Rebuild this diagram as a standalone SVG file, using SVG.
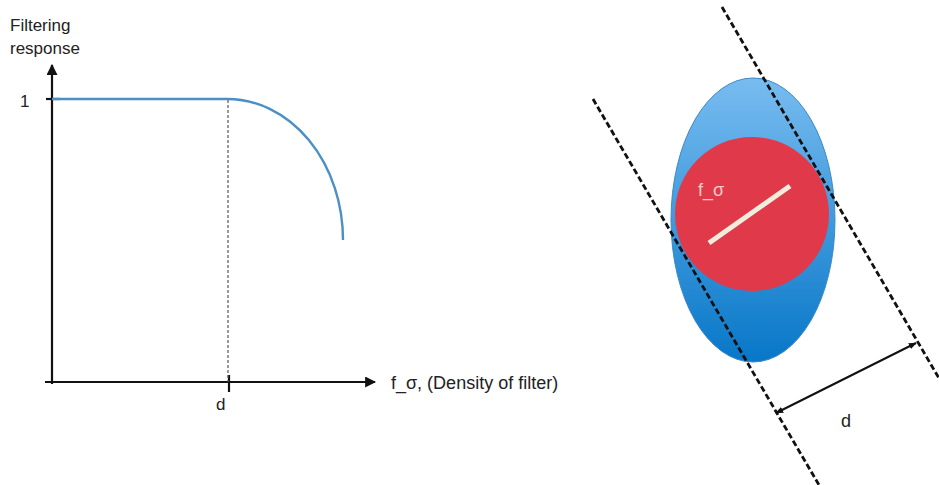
<svg xmlns="http://www.w3.org/2000/svg" width="939" height="485" viewBox="0 0 939 485">
<style>
text{font-family:"Liberation Sans",Arial,sans-serif;fill:#222}
.axis{stroke:#111;stroke-width:2.2;fill:none}
.dash{stroke:#111;stroke-width:2.8;stroke-dasharray:6 3;fill:none}
</style>
<defs>
<marker id="ah" viewBox="0 0 10 10" refX="9" refY="5" markerWidth="5" markerHeight="5" orient="auto" markerUnits="strokeWidth">
<path d="M0,0 L10,5 L0,10 z" fill="#111"/>
</marker>
<marker id="ahs" viewBox="0 0 10 10" refX="9" refY="5" markerWidth="4" markerHeight="4" orient="auto-start-reverse" markerUnits="strokeWidth">
<path d="M0,1 L10,5 L0,9 z" fill="#111"/>
</marker>
<linearGradient id="blue" x1="0" y1="0" x2="0" y2="1">
<stop offset="0" stop-color="#78bcf0"/>
<stop offset="1" stop-color="#0777c8"/>
</linearGradient>
</defs>
<rect width="939" height="485" fill="#fff"/>

<g id="plot">
<g id="axes">
<line class="axis" x1="52" y1="384" x2="52" y2="65" marker-end="url(#ah)"/>
<line class="axis" x1="45" y1="382" x2="375" y2="382" marker-end="url(#ah)"/>
<line class="axis" x1="46" y1="99" x2="60" y2="99"/>
<line class="axis" x1="229" y1="375" x2="229" y2="392"/>
</g>
<line x1="228" y1="100" x2="228" y2="382" stroke="#555" stroke-width="1.2" stroke-dasharray="3 2"/>
<path d="M52,99 L227,99 A116 141 0 0 1 343 240" fill="none" stroke="#4a8fc6" stroke-width="2.4"/>
<text x="10" y="31" font-size="17">Filtering</text>
<text x="10" y="54" font-size="17">response</text>
<text x="20" y="107" font-size="17">1</text>
<text x="216" y="410" font-size="17">d</text>
<text x="391" y="389" font-size="18">f_σ, (Density of filter)</text>
</g>

<g id="filter">
<ellipse cx="753" cy="220" rx="82" ry="142" fill="url(#blue)" stroke="#3d88c8" stroke-width="1"/>
<circle cx="752" cy="214" r="77" fill="#e03a4a"/>
<line x1="709" y1="243" x2="790" y2="186" stroke="#f1ecdc" stroke-width="5"/>
<text x="698" y="196" font-size="18" style="fill:#f7c7c9">f_σ</text>
</g>

<g id="connectors">
<line class="dash" x1="593" y1="99" x2="819" y2="485"/>
<line class="dash" x1="722" y1="7" x2="940" y2="380"/>
<line x1="776" y1="413" x2="916" y2="343" stroke="#111" stroke-width="2" marker-start="url(#ahs)" marker-end="url(#ahs)"/>
<text x="841" y="427" font-size="18">d</text>
</g>
</svg>
